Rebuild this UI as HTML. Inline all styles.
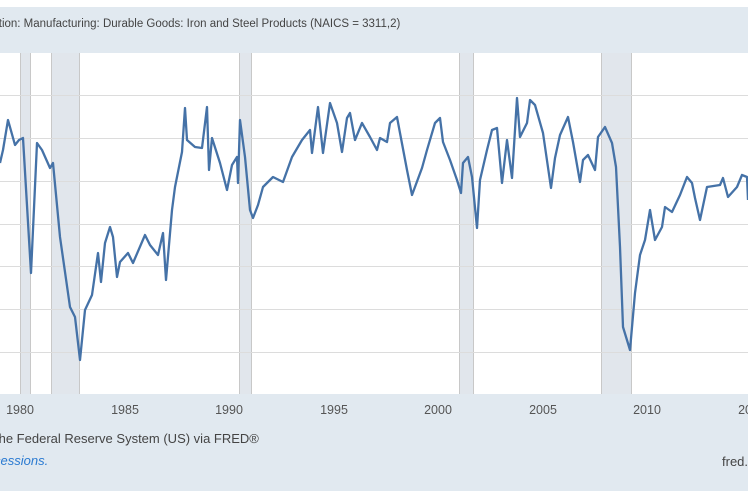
<!DOCTYPE html>
<html><head><meta charset="utf-8"><style>
html,body{margin:0;padding:0;background:#fff;}
body{width:748px;height:498px;overflow:hidden;position:relative;font-family:"Liberation Sans",sans-serif;}
</style></head><body>
<svg width="748" height="498" xmlns="http://www.w3.org/2000/svg" style="position:absolute;left:0;top:0">
<rect x="0" y="7" width="748" height="484" fill="#e1e9f0"/>
<rect x="0" y="53" width="748" height="341" fill="#fff"/>
<g fill="#e1e6ec">
<rect x="20" y="53" width="11" height="341"/>
<rect x="51" y="53" width="29" height="341"/>
<rect x="239" y="53" width="13" height="341"/>
<rect x="459" y="53" width="15" height="341"/>
<rect x="601" y="53" width="31" height="341"/>
</g>
<g stroke="#c8c8c8" stroke-width="1">
<line x1="20.5" y1="53" x2="20.5" y2="394"/><line x1="30.5" y1="53" x2="30.5" y2="394"/>
<line x1="51.5" y1="53" x2="51.5" y2="394"/><line x1="79.5" y1="53" x2="79.5" y2="394"/>
<line x1="239.5" y1="53" x2="239.5" y2="394"/><line x1="251.5" y1="53" x2="251.5" y2="394"/>
<line x1="459.5" y1="53" x2="459.5" y2="394"/><line x1="473.5" y1="53" x2="473.5" y2="394"/>
<line x1="601.5" y1="53" x2="601.5" y2="394"/><line x1="631.5" y1="53" x2="631.5" y2="394"/>
</g>
<g stroke="#dcdcdc" stroke-width="1">
<line x1="0" y1="95.5" x2="748" y2="95.5"/><line x1="0" y1="138.5" x2="748" y2="138.5"/>
<line x1="0" y1="181.5" x2="748" y2="181.5"/><line x1="0" y1="224.5" x2="748" y2="224.5"/>
<line x1="0" y1="266.5" x2="748" y2="266.5"/><line x1="0" y1="309.5" x2="748" y2="309.5"/>
<line x1="0" y1="352.5" x2="748" y2="352.5"/>
</g>
<polyline fill="none" stroke="#4572a7" stroke-width="2.3" stroke-linejoin="round" points="0,163 3,150 8,120 15,145 19,140 23,138 31,273 37,143 42,150 50,168 53,163 60,237 70,307 75,317 80,360 85,310 92,295 98,253 101,282 105,243 110,227 113,237 117,277 120,262 128,253 133,263 145,235 150,245 158,255 163,233 166,280 172,210 175,187 182,152 185,108 187,140 195,147 202,148 207,107 209,170 212,138 220,163 227,190 232,165 237,157 238,183 240,120 245,157 250,210 253,218 258,205 263,187 273,177 283,182 292,157 302,140 310,130 312,153 318,107 323,153 330,103 337,123 342,152 347,118 350,113 355,140 362,123 370,137 377,150 380,138 387,142 390,123 397,117 400,133 407,170 412,195 422,168 427,150 435,123 440,118 443,142 450,160 457,180 461,193 463,163 468,157 472,177 477,228 480,180 487,150 492,130 497,128 502,183 507,140 512,178 517,98 520,137 527,123 530,100 535,105 543,133 551,188 555,158 560,135 568,117 573,142 580,182 583,160 588,155 595,170 598,137 605,127 612,143 616,167 620,247 623,327 630,350 635,293 640,255 645,240 650,210 655,240 662,227 665,207 672,212 680,195 687,177 692,183 695,198 700,220 707,187 720,185 723,178 728,197 737,187 742,175 747,177 748,200"/>
<text x="-7" y="27" font-size="11.5" fill="#444">ction: Manufacturing: Durable Goods: Iron and Steel Products (NAICS = 3311,2)</text>
<g font-size="12.5" fill="#555" text-anchor="middle">
<text x="20" y="414">1980</text><text x="125" y="414">1985</text><text x="229" y="414">1990</text>
<text x="334" y="414">1995</text><text x="438" y="414">2000</text><text x="543" y="414">2005</text>
<text x="647" y="414">2010</text><text x="752" y="414">2015</text>
</g>
<text x="-5" y="443" font-size="13" fill="#444">the Federal Reserve System (US) via FRED®</text>
<text x="-6" y="465" font-size="13" fill="#2a7ad1" font-style="italic">cessions.</text>
<text x="722" y="466" font-size="13" fill="#444">fred.stlouisfed.org</text>
</svg>
</body></html>
